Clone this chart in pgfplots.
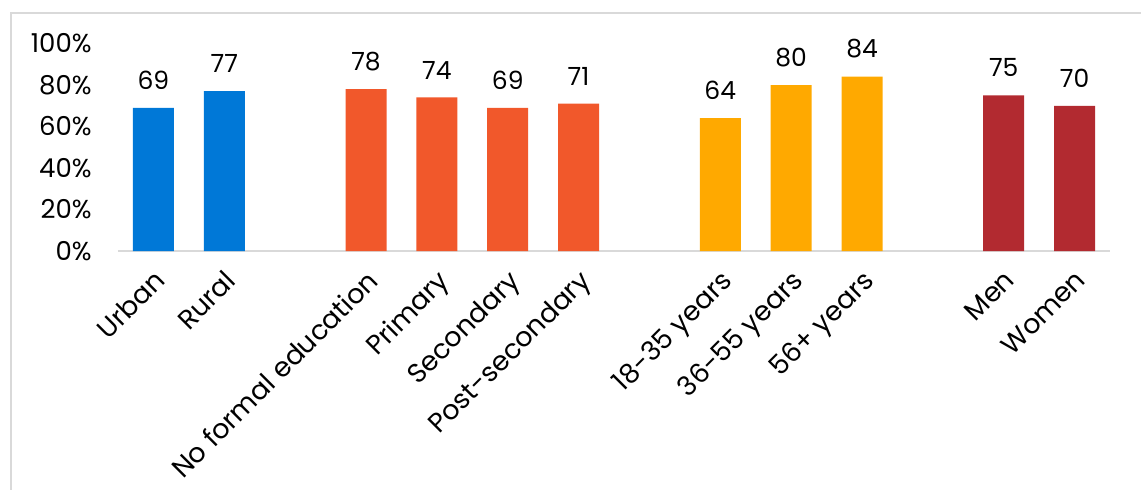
\documentclass[border=0pt]{standalone}
\usepackage{fontspec}
\setmainfont{Poppins}
\usepackage{pgfplots}
\pgfplotsset{compat=1.18}
\definecolor{cblue}{RGB}{0,120,215}
\definecolor{corange}{RGB}{241,88,43}
\definecolor{cyellow}{RGB}{255,169,0}
\definecolor{cred}{RGB}{178,42,48}
\definecolor{linegray}{RGB}{217,217,217}
\begin{document}
\begin{tikzpicture}
\useasboundingbox (-59pt,-119pt) rectangle (511.5pt,125.5pt);
\draw[linegray, line width=0.8pt] (-53.5pt,-130pt) -- (-53.5pt,119pt) -- (530pt,119pt);
\begin{axis}[
  at={(0pt,0pt)}, anchor=south west,
  width=496pt, height=103.75pt, scale only axis,
  xmin=-0.5, xmax=13.5, ymin=0, ymax=100,
  axis x line*=bottom, axis y line*=left,
  x axis line style={draw=linegray, line width=0.9pt, -},
  y axis line style={draw=none},
  tick style={draw=none},
  xtick={0,...,13},
  xticklabels={Urban,Rural,,No formal education,Primary,Secondary,Post-secondary,,18-35 years,36-55 years,56+ years,,Men,Women},
  x tick label style={rotate=45, anchor=north east, inner sep=0pt, xshift=-3.3pt, yshift=-2.7pt, font=\fontsize{13.5}{15}\selectfont},
  ytick={0,20,40,60,80,100},
  yticklabels={0\%,20\%,40\%,60\%,80\%,100\%},
  y tick label style={anchor=east, inner sep=0pt, xshift=-13pt, font=\fontsize{13}{15}\selectfont},
  ybar, bar width=20.5pt, bar shift=0pt,
  /pgf/number format/assume math mode=true,
  nodes near coords,
  nodes near coords style={font=\fontsize{12.5}{14}\selectfont, anchor=south, inner sep=0pt, yshift=9pt, text=black},
  clip=false,
]
\addplot[fill=cblue, draw=none] coordinates {(0,69) (1,77)};
\addplot[fill=corange, draw=none] coordinates {(3,78) (4,74) (5,69) (6,71)};
\addplot[fill=cyellow, draw=none] coordinates {(8,64) (9,80) (10,84)};
\addplot[fill=cred, draw=none] coordinates {(12,75) (13,70)};
\end{axis}
\end{tikzpicture}
\end{document}
